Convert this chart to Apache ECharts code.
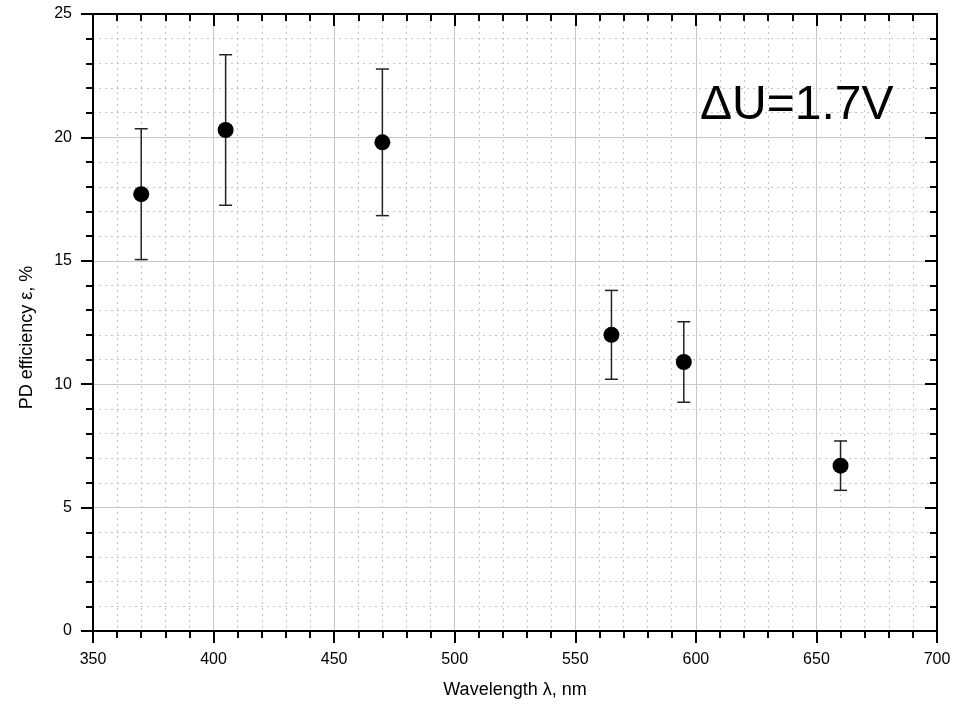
<!DOCTYPE html>
<html>
<head>
<meta charset="utf-8">
<script src="https://cdn.jsdelivr.net/npm/echarts@6/dist/echarts.min.js"></script>
<style>html,body{margin:0;padding:0;background:#fff}#chart{width:961px;height:706px}</style>
</head>
<body>
<div id="chart"></div>
<script>
const wavelengths = [370, 405, 470, 565, 595, 660];
const efficiency = [17.7, 20.3, 19.8, 12.0, 10.9, 6.7];
const errors = [2.65, 3.05, 2.97, 1.8, 1.63, 1.0];
const xTicks = [350, 400, 450, 500, 550, 600, 650, 700];
const yTicks = [0, 5, 10, 15, 20, 25];
const annotation = 'ΔU=1.7V';
const xName = 'Wavelength λ, nm';
const yName = 'PD efficiency ε, %';

const FONT = '"Liberation Sans", Arial, sans-serif';
const chart = echarts.init(document.getElementById('chart'));

const pts = wavelengths.map((w, i) => [w, efficiency[i]]);
const errData = wavelengths.map((w, i) => [w, efficiency[i] - errors[i], efficiency[i] + errors[i]]);

const axisLineStyle = { color: '#000', width: 2 };
const majorGrid = { show: true, lineStyle: { color: '#c8c8c8', width: 1 } };
const minorGrid = { show: true, lineStyle: { color: '#c4c4c4', width: 1, type: [2, 4] } };

const option = {
  animation: false,
  backgroundColor: '#fff',
  grid: { left: 93, right: 24, top: 14, bottom: 75, containLabel: false },
  xAxis: [{
    type: 'value', min: xTicks[0], max: xTicks[xTicks.length - 1], interval: 50,
    position: 'bottom',
    name: xName, nameLocation: 'middle', nameGap: 50,
    nameTextStyle: { fontFamily: FONT, fontSize: 18, color: '#000' },
    axisLine: { show: true, onZero: false, lineStyle: axisLineStyle },
    axisTick: { show: true, inside: false, length: 12, lineStyle: { color: '#000', width: 2 } },
    minorTick: { show: true, splitNumber: 5, length: 7, lineStyle: { color: '#000', width: 2 } },
    axisLabel: { fontFamily: FONT, fontSize: 16, color: '#000', margin: 21 },
    splitLine: majorGrid,
    minorSplitLine: minorGrid
  }, {
    type: 'value', min: xTicks[0], max: xTicks[xTicks.length - 1], interval: 50,
    position: 'top',
    axisLine: { show: true, onZero: false, lineStyle: axisLineStyle },
    axisTick: { show: true, inside: true, length: 12, lineStyle: { color: '#000', width: 2 } },
    minorTick: { show: true, splitNumber: 5, length: 7, lineStyle: { color: '#000', width: 2 } },
    axisLabel: { show: false },
    splitLine: { show: false }
  }],
  yAxis: [{
    type: 'value', min: yTicks[0], max: yTicks[yTicks.length - 1], interval: 5,
    position: 'left',
    name: yName, nameLocation: 'middle', nameGap: 57, nameRotate: 90,
    nameTextStyle: { fontFamily: FONT, fontSize: 18, color: '#000', padding: [0, 30, 0, 0] },
    axisLine: { show: true, onZero: false, lineStyle: axisLineStyle },
    axisTick: { show: true, inside: false, length: 12, lineStyle: { color: '#000', width: 2 } },
    minorTick: { show: true, splitNumber: 5, length: 7, lineStyle: { color: '#000', width: 2 } },
    axisLabel: { fontFamily: FONT, fontSize: 16, color: '#000', margin: 21 },
    splitLine: majorGrid,
    minorSplitLine: minorGrid
  }, {
    type: 'value', min: yTicks[0], max: yTicks[yTicks.length - 1], interval: 5,
    position: 'right',
    axisLine: { show: true, onZero: false, lineStyle: axisLineStyle },
    axisTick: { show: true, inside: true, length: 12, lineStyle: { color: '#000', width: 2 } },
    minorTick: { show: true, splitNumber: 5, length: 7, lineStyle: { color: '#000', width: 2 } },
    axisLabel: { show: false },
    splitLine: { show: false }
  }],
  graphic: [{
    type: 'text', x: 700, y: 106, z: 100,
    style: { text: annotation, font: '48px ' + FONT, fill: '#000', align: 'left', verticalAlign: 'middle' }
  }],
  series: [{
    type: 'custom',
    xAxisIndex: 0, yAxisIndex: 0,
    data: errData,
    z: 3,
    renderItem: function (params, api) {
      const x = api.value(0);
      const lo = api.coord([x, api.value(1)]);
      const hi = api.coord([x, api.value(2)]);
      const hw = 6.5;
      const style = { stroke: '#222', lineWidth: 1.5 };
      return {
        type: 'group',
        children: [
          { type: 'line', shape: { x1: lo[0], y1: lo[1], x2: hi[0], y2: hi[1] }, style: style },
          { type: 'line', shape: { x1: lo[0] - hw, y1: lo[1], x2: lo[0] + hw, y2: lo[1] }, style: style },
          { type: 'line', shape: { x1: hi[0] - hw, y1: hi[1], x2: hi[0] + hw, y2: hi[1] }, style: style }
        ]
      };
    }
  }, {
    type: 'scatter',
    xAxisIndex: 0, yAxisIndex: 0,
    data: pts,
    symbol: 'circle', symbolSize: 16,
    itemStyle: { color: '#000', opacity: 1 },
    emphasis: { disabled: true },
    z: 5
  }]
};
chart.setOption(option);
</script>
</body>
</html>
